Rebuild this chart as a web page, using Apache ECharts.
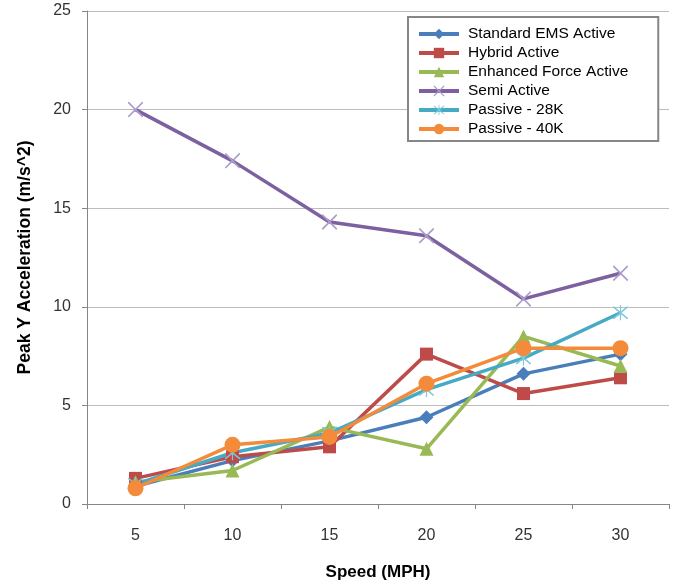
<!DOCTYPE html>
<html>
<head>
<meta charset="utf-8">
<script src="https://cdn.jsdelivr.net/npm/echarts@6/dist/echarts.min.js"></script>
<style>
  html, body { margin: 0; padding: 0; background: #ffffff; }
  #chart { width: 673px; height: 587px; }
</style>
</head>
<body>
<div id="chart"></div>
<script>
// Speed categories (MPH)
const speeds = ['5', '10', '15', '20', '25', '30'];

// Peak Y acceleration (m/s^2) per suspension type
const standardEMS   = [0.9, 2.2, 3.2, 4.4, 6.6, 7.6];
const hybridActive  = [1.3, 2.4, 2.9, 7.6, 5.6, 6.4];
const enhancedForce = [1.1, 1.7, 3.9, 2.8, 8.5, 7.0];
const semiActive    = [20.0, 17.4, 14.3, 13.6, 10.4, 11.7];
const passive28K    = [1.0, 2.6, 3.6, 5.8, 7.4, 9.7];
const passive40K    = [0.8, 3.0, 3.4, 6.1, 7.9, 7.9];

const FONT = '"Liberation Sans", "DejaVu Sans", sans-serif';

// thin X marker
const xMark = 'path://M0,0 L1.6,0 L10,8.4 L18.4,0 L20,0 L20,1.6 L11.6,10 L20,18.4 L20,20 L18.4,20 L10,11.6 L1.6,20 L0,20 L0,18.4 L8.4,10 L0,1.6 Z';
// asterisk marker (X plus vertical stroke)
const starMark = 'path://M0,0 L1.6,0 L10,8.4 L18.4,0 L20,0 L20,1.6 L11.6,10 L20,18.4 L20,20 L18.4,20 L10,11.6 L1.6,20 L0,20 L0,18.4 L8.4,10 L0,1.6 Z M9.2,-2 L10.8,-2 L10.8,22 L9.2,22 Z';

function line(name, data, color, symbol, size, markerColor) {
  return {
    name: name,
    type: 'line',
    data: data,
    symbol: symbol,
    symbolSize: size,
    showSymbol: true,
    lineStyle: { color: color, width: 3.5 },
    itemStyle: { color: markerColor || color, borderWidth: 0 },
    emphasis: { disabled: true },
    animation: false
  };
}

const chart = echarts.init(document.getElementById('chart'), null, { renderer: 'canvas' });
chart.setOption({
  backgroundColor: '#ffffff',
  animation: false,
  grid: { left: 87, right: 4, top: 11, bottom: 83, containLabel: false },
  legend: {
    orient: 'vertical',
    left: 408,
    top: 17,
    padding: [9, 30, 4, 9],
    itemWidth: 40,
    itemHeight: 13,
    itemGap: 3,
    backgroundColor: '#ffffff',
    borderColor: '#868686',
    borderWidth: 2,
    lineStyle: { width: 4 },
    textStyle: { fontFamily: FONT, fontSize: 15.5, lineHeight: 15, color: '#000000', padding: [0, 0, 0, 4] },
    data: ['Standard EMS Active', 'Hybrid Active', 'Enhanced Force Active', 'Semi Active', 'Passive - 28K', 'Passive - 40K']
  },
  xAxis: {
    type: 'category',
    data: speeds,
    boundaryGap: true,
    name: 'Speed (MPH)',
    nameLocation: 'middle',
    nameGap: 60,
    nameTextStyle: { fontFamily: FONT, fontSize: 17, fontWeight: 'bold', color: '#000000' },
    axisLine: { show: true, lineStyle: { color: '#868686', width: 1 } },
    axisTick: { show: true, length: 5, inside: false, lineStyle: { color: '#868686' } },
    axisLabel: { margin: 24, fontFamily: FONT, fontSize: 16, color: '#333333' },
    splitLine: { show: false }
  },
  yAxis: {
    type: 'value',
    min: 0,
    max: 25,
    interval: 5,
    name: 'Peak Y Acceleration (m/s^2)',
    nameLocation: 'middle',
    nameGap: 53,
    nameRotate: 90,
    nameTextStyle: { fontFamily: FONT, fontSize: 17.5, fontWeight: 'bold', color: '#000000' },
    axisLine: { show: true, lineStyle: { color: '#868686', width: 1 } },
    axisTick: { show: true, length: 5, inside: false, lineStyle: { color: '#868686' } },
    axisLabel: { margin: 16, fontFamily: FONT, fontSize: 16, color: '#333333' },
    splitLine: { show: true, lineStyle: { color: '#bcbcbc', width: 1 } }
  },
  series: [
    line('Standard EMS Active', standardEMS, '#4A7EBB', 'diamond', 14),
    line('Hybrid Active', hybridActive, '#BE4B48', 'rect', 13),
    line('Enhanced Force Active', enhancedForce, '#98B954', 'triangle', 14),
    line('Semi Active', semiActive, '#7D60A0', xMark, 15, '#ad9ccb'),
    line('Passive - 28K', passive28K, '#46AAC5', starMark, 15, '#7cc8dd'),
    line('Passive - 40K', passive40K, '#F38B3B', 'circle', 16)
  ]
});
</script>
</body>
</html>
